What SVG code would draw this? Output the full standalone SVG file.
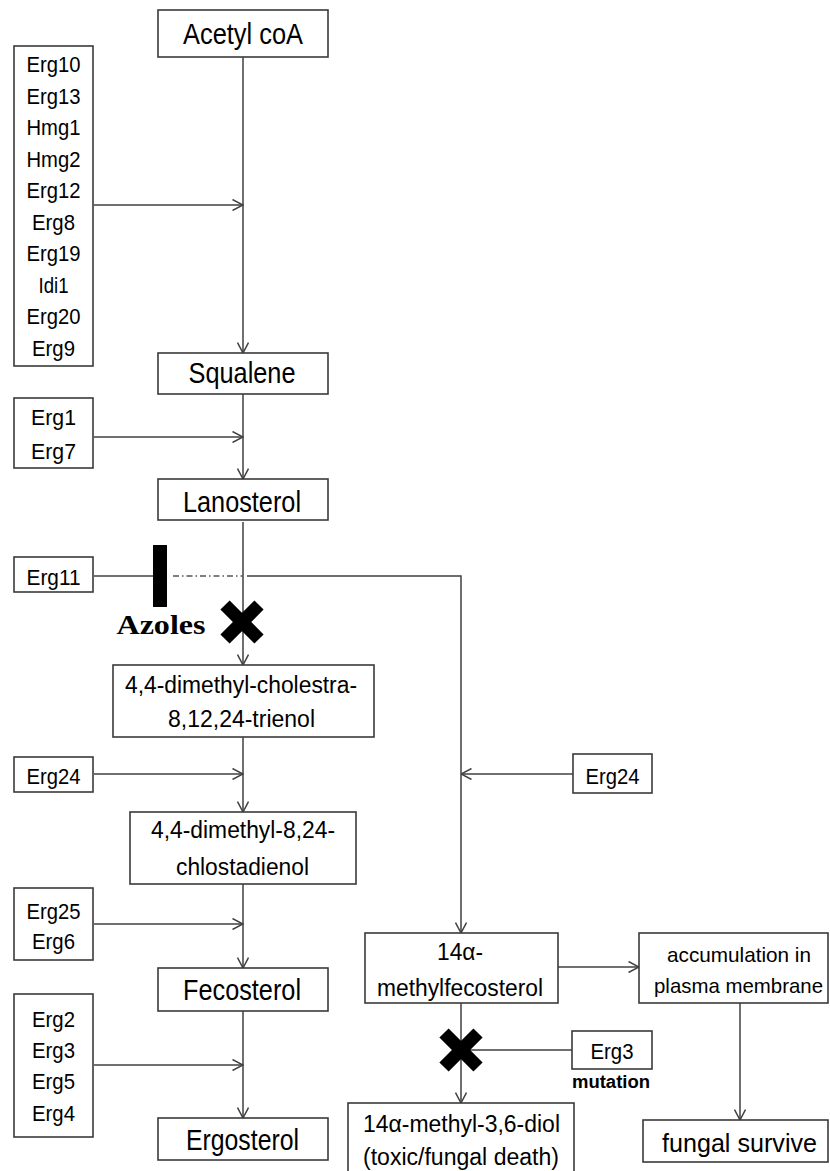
<svg xmlns="http://www.w3.org/2000/svg" width="830" height="1171" viewBox="0 0 830 1171">
<style>
.box{fill:#fff;stroke:#3a3a3a;stroke-width:1.6}
.t{font-family:"Liberation Sans",Arial,sans-serif;fill:#000;text-anchor:middle}
.big{font-size:29px}
.mid{font-size:23px}
.gene{font-size:22px}
.ln{fill:none;stroke:#404040;stroke-width:1.5}
.arr{marker-end:url(#ah)}
.xm{stroke:#000;stroke-width:13;stroke-linecap:butt}
</style>
<defs>
<marker id="ah" viewBox="0 0 12 12" refX="11.5" refY="6" markerWidth="12" markerHeight="12" markerUnits="userSpaceOnUse" orient="auto">
<path d="M1,0.5 L11.5,6 L1,11.5" fill="none" stroke="#404040" stroke-width="1.5"/>
</marker>
</defs>
<rect width="830" height="1171" fill="#fff"/>

<g id="connectors">
<line class="ln arr" x1="243" y1="57" x2="243" y2="353"/>
<line class="ln arr" x1="94" y1="205" x2="243" y2="205"/>
<line class="ln arr" x1="243" y1="394" x2="243" y2="479"/>
<line class="ln arr" x1="94" y1="437" x2="243" y2="437"/>
<line class="ln arr" x1="243" y1="522" x2="243" y2="665"/>
<line class="ln" x1="94" y1="576" x2="153" y2="576"/>
<line x1="173" y1="576" x2="243" y2="576" stroke="#555" stroke-width="1.4" stroke-dasharray="6,3,1.5,3"/>
<polyline class="ln arr" points="247,576 461,576 461,933"/>
<line class="ln arr" x1="243" y1="737" x2="243" y2="812"/>
<line class="ln arr" x1="94" y1="774" x2="243" y2="774"/>
<line class="ln arr" x1="573" y1="774" x2="461" y2="774"/>
<line class="ln arr" x1="243" y1="884" x2="243" y2="968"/>
<line class="ln arr" x1="94" y1="924" x2="243" y2="924"/>
<line class="ln arr" x1="243" y1="1011" x2="243" y2="1118"/>
<line class="ln arr" x1="94" y1="1065" x2="243" y2="1065"/>
<line class="ln arr" x1="558" y1="967" x2="639" y2="967"/>
<line class="ln arr" x1="461" y1="1003" x2="461" y2="1103"/>
<line class="ln" x1="572" y1="1050" x2="461" y2="1050"/>
<line class="ln arr" x1="740" y1="1003" x2="740" y2="1120"/>
</g>

<g id="inhibitor-bar"><rect x="153" y="545" width="14" height="62" fill="#000"/></g>
<g id="azoles-label"><text x="161" y="634" font-family="'Liberation Serif','Times New Roman',serif" font-weight="bold" font-size="28" textLength="89" lengthAdjust="spacingAndGlyphs" text-anchor="middle">Azoles</text></g>
<g id="block-x1"><line class="xm" x1="225" y1="605" x2="259" y2="639"/><line class="xm" x1="259" y1="605" x2="225" y2="639"/></g>
<g id="block-x2"><line class="xm" x1="444" y1="1033" x2="478" y2="1067"/><line class="xm" x1="478" y1="1033" x2="444" y2="1067"/></g>

<g id="acetylcoa"><rect class="box" x="158" y="10" width="170" height="47"/><text class="t big" x="243" y="44" textLength="120" lengthAdjust="spacingAndGlyphs">Acetyl coA</text></g>

<g id="genes1"><rect class="box" x="14" y="46" width="79" height="320"/>
<text class="t gene" x="53.5" y="72" textLength="54" lengthAdjust="spacingAndGlyphs">Erg10</text>
<text class="t gene" x="53.5" y="103.5" textLength="54" lengthAdjust="spacingAndGlyphs">Erg13</text>
<text class="t gene" x="53.5" y="135" textLength="54" lengthAdjust="spacingAndGlyphs">Hmg1</text>
<text class="t gene" x="53.5" y="166.5" textLength="54" lengthAdjust="spacingAndGlyphs">Hmg2</text>
<text class="t gene" x="53.5" y="198" textLength="54" lengthAdjust="spacingAndGlyphs">Erg12</text>
<text class="t gene" x="53.5" y="229.5" textLength="43" lengthAdjust="spacingAndGlyphs">Erg8</text>
<text class="t gene" x="53.5" y="261" textLength="54" lengthAdjust="spacingAndGlyphs">Erg19</text>
<text class="t gene" x="53.5" y="292.5" textLength="30" lengthAdjust="spacingAndGlyphs">Idi1</text>
<text class="t gene" x="53.5" y="324" textLength="54" lengthAdjust="spacingAndGlyphs">Erg20</text>
<text class="t gene" x="53.5" y="355.5" textLength="43" lengthAdjust="spacingAndGlyphs">Erg9</text>
</g>

<g id="squalene"><rect class="box" x="158" y="353" width="170" height="41"/><text class="t big" x="242" y="383" textLength="107" lengthAdjust="spacingAndGlyphs">Squalene</text></g>

<g id="genes2"><rect class="box" x="14" y="398" width="79" height="70"/>
<text class="t gene" x="53.5" y="425" font-size="23" textLength="45" lengthAdjust="spacingAndGlyphs">Erg1</text>
<text class="t gene" x="53.5" y="459" font-size="23" textLength="45" lengthAdjust="spacingAndGlyphs">Erg7</text>
</g>

<g id="lanosterol"><rect class="box" x="158" y="479" width="170" height="41"/><text class="t big" x="242" y="512" textLength="118" lengthAdjust="spacingAndGlyphs">Lanosterol</text></g>

<g id="erg11"><rect class="box" x="14" y="557" width="79" height="35"/><text class="t gene" x="53.5" y="585" textLength="54" lengthAdjust="spacingAndGlyphs">Erg11</text></g>

<g id="trienol"><rect class="box" x="113" y="665" width="261" height="72"/>
<text class="t mid" x="241" y="693" textLength="232" lengthAdjust="spacingAndGlyphs">4,4-dimethyl-cholestra-</text>
<text class="t mid" x="241.5" y="727" textLength="147" lengthAdjust="spacingAndGlyphs">8,12,24-trienol</text>
</g>

<g id="erg24-left"><rect class="box" x="14" y="757" width="79" height="35"/><text class="t gene" x="53.5" y="784" textLength="54" lengthAdjust="spacingAndGlyphs">Erg24</text></g>

<g id="erg24-right"><rect class="box" x="573" y="754" width="79" height="39"/><text class="t gene" x="612.5" y="784" textLength="54" lengthAdjust="spacingAndGlyphs">Erg24</text></g>

<g id="chlostadienol"><rect class="box" x="130" y="812" width="226" height="72"/>
<text class="t mid" x="243" y="838" textLength="184" lengthAdjust="spacingAndGlyphs">4,4-dimethyl-8,24-</text>
<text class="t mid" x="242.5" y="875" textLength="133" lengthAdjust="spacingAndGlyphs">chlostadienol</text>
</g>

<g id="genes3"><rect class="box" x="14" y="888" width="79" height="72"/>
<text class="t gene" x="53.5" y="919" textLength="54" lengthAdjust="spacingAndGlyphs">Erg25</text>
<text class="t gene" x="53.5" y="949" textLength="43" lengthAdjust="spacingAndGlyphs">Erg6</text>
</g>

<g id="fecosterol"><rect class="box" x="158" y="968" width="170" height="43"/><text class="t big" x="242" y="1000" textLength="118" lengthAdjust="spacingAndGlyphs">Fecosterol</text></g>

<g id="genes4"><rect class="box" x="14" y="994" width="79" height="143"/>
<text class="t gene" x="53.5" y="1027" textLength="43" lengthAdjust="spacingAndGlyphs">Erg2</text>
<text class="t gene" x="53.5" y="1058" textLength="43" lengthAdjust="spacingAndGlyphs">Erg3</text>
<text class="t gene" x="53.5" y="1089" textLength="43" lengthAdjust="spacingAndGlyphs">Erg5</text>
<text class="t gene" x="53.5" y="1121" textLength="43" lengthAdjust="spacingAndGlyphs">Erg4</text>
</g>

<g id="ergosterol"><rect class="box" x="158" y="1118" width="170" height="42"/><text class="t big" x="242.5" y="1150" textLength="113" lengthAdjust="spacingAndGlyphs">Ergosterol</text></g>

<g id="methylfecosterol"><rect class="box" x="365" y="933" width="193" height="70"/>
<text class="t mid" x="460" y="960" textLength="46" lengthAdjust="spacingAndGlyphs">14α-</text>
<text class="t mid" x="460" y="996" textLength="166" lengthAdjust="spacingAndGlyphs">methylfecosterol</text>
</g>

<g id="accumulation"><rect class="box" x="639" y="933" width="189" height="70"/>
<text class="t" font-size="21" x="739" y="962" textLength="144" lengthAdjust="spacingAndGlyphs">accumulation in</text>
<text class="t" font-size="21" x="738.5" y="993" textLength="169" lengthAdjust="spacingAndGlyphs">plasma membrane</text>
</g>

<g id="erg3-mutation"><rect class="box" x="572" y="1031" width="80" height="38"/>
<text class="t gene" x="612" y="1059" textLength="43" lengthAdjust="spacingAndGlyphs">Erg3</text>
<text class="t" x="611" y="1088" font-size="18" font-weight="bold" textLength="78" lengthAdjust="spacingAndGlyphs">mutation</text>
</g>

<g id="diol"><rect class="box" x="348" y="1103" width="226" height="75"/>
<text class="t mid" x="461.5" y="1132" textLength="197" lengthAdjust="spacingAndGlyphs">14α-methyl-3,6-diol</text>
<text class="t mid" x="461" y="1165" textLength="196" lengthAdjust="spacingAndGlyphs">(toxic/fungal death)</text>
</g>

<g id="fungal-survive"><rect class="box" x="643" y="1120" width="185" height="42"/><text class="t" font-size="26" x="739.5" y="1152" textLength="155" lengthAdjust="spacingAndGlyphs">fungal survive</text></g>
</svg>
